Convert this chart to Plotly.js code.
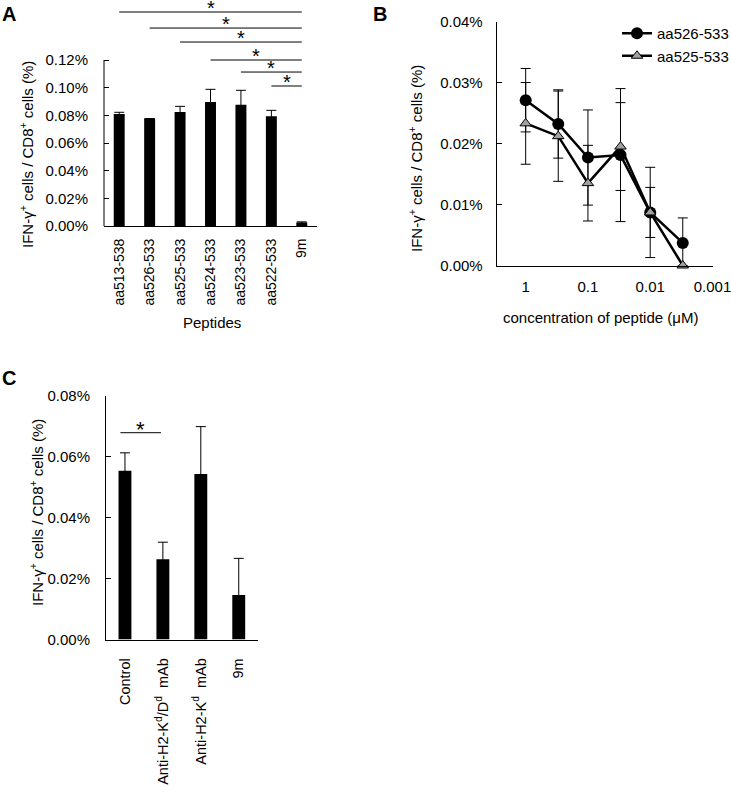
<!DOCTYPE html>
<html><head><meta charset="utf-8">
<script src="https://cdn.plot.ly/plotly-3.0.1.min.js"></script>
<style>html,body{margin:0;padding:0;background:#fff}#chart{width:731px;height:787px}</style>
</head><body><div id="chart"></div>
<script>
// ---------- Panel A data ----------
const peptides = ['aa513-538','aa526-533','aa525-533','aa524-533','aa523-533','aa522-533','9m'];
const peptideMeans = [0.0810,0.0776,0.0824,0.0896,0.0877,0.0793,0.0025];
const peptideErr   = [0.0012,0.0000,0.0041,0.0092,0.0104,0.0043,0.0005];
const sigFrom  = [0,1,2,3,4,5];
const sigTo    = [6,6,6,6,6,6];
const sigLevel = [0.1547,0.1431,0.1330,0.1200,0.1113,0.1012];
const yTicksA     = [0,0.02,0.04,0.06,0.08,0.10,0.12];
const yTickTextA  = ['0.00%','0.02%','0.04%','0.06%','0.08%','0.10%','0.12%'];

// ---------- Panel B data ----------
const concentrations = [1,0.3,0.1,0.03,0.01,0.003];
const aa526    = [0.0271,0.0232,0.0177,0.0181,0.0087,0.0037];
const aa526Err = [0.0052,0.0056,0.0078,0.0109,0.0041,0.0041];
const aa525    = [0.0233,0.0212,0.0135,0.0195,0.0087,0.0000];
const aa525Err = [0.0067,0.0074,0.0062,0.0072,0.0074,0.0000];
const concTicks    = [1,0.1,0.01,0.001];
const concTickText = ['1','0.1','0.01','0.001'];
const yTicksB    = [0,0.01,0.02,0.03,0.04];
const yTickTextB = ['0.00%','0.01%','0.02%','0.03%','0.04%'];

// ---------- Panel C data ----------
const treatments = ['Control','Anti-H2-K<sup>d</sup>/D<sup>d</sup>\u00a0 mAb','Anti-H2-K<sup>d</sup>\u00a0 mAb','9m'];
const treatMeans = [0.0553,0.0263,0.0543,0.0146];
const treatErr   = [0.0059,0.0056,0.0155,0.0120];
const yTicksC    = [0,0.02,0.04,0.06,0.08];
const yTickTextC = ['0.00%','0.02%','0.04%','0.06%','0.08%'];
const sigC = {from:-0.12, to:0.95, level:0.0678};

// ---------- layout helpers ----------
const W = 731, H = 787;
const fx = p => p / W;
const fy = p => 1 - p / H;
const FAM = 'Arial, "Liberation Sans", "DejaVu Sans", sans-serif';
const font = {family: FAM, size: 15, color: '#000'};
const ytitle = 'IFN-γ<sup>+</sup> cells / CD8<sup>+</sup> cells (%)';

const traces = [
  {type:'bar', x:peptides, y:peptideMeans, xaxis:'x', yaxis:'y', width:0.36,
   marker:{color:'#000'}, showlegend:false,
   error_y:{type:'data', array:peptideErr, visible:true, color:'#000', thickness:1, width:5}},
  {type:'scatter', mode:'lines+markers', name:'aa526-533', x:concentrations, y:aa526, xaxis:'x2', yaxis:'y2',
   line:{color:'#000', width:2.5}, marker:{symbol:'circle', size:12, color:'#000'}, cliponaxis:false,
   error_y:{type:'data', array:aa526Err, visible:true, color:'#000', thickness:1, width:5}},
  {type:'scatter', mode:'lines+markers', name:'aa525-533', x:concentrations, y:aa525, xaxis:'x2', yaxis:'y2',
   line:{color:'#000', width:2.5}, marker:{symbol:'triangle-up', size:10, color:'#a0a0a0', line:{color:'#000', width:1}}, cliponaxis:false,
   error_y:{type:'data', array:aa525Err, visible:true, color:'#000', thickness:1, width:5}},
  {type:'bar', x:treatments, y:treatMeans, xaxis:'x3', yaxis:'y3', width:0.34,
   marker:{color:'#000'}, showlegend:false,
   error_y:{type:'data', array:treatErr, visible:true, color:'#000', thickness:1, width:5}}
];

const shapes = [];
// panel A y-axis line (0 to 0.12)
shapes.push({type:'line', xref:'x domain', yref:'y', x0:0, x1:0, y0:0, y1:0.12, line:{color:'#000', width:1}});
for (let i = 0; i < sigFrom.length; i++) {
  shapes.push({type:'line', xref:'x', yref:'y', x0:sigFrom[i], x1:sigTo[i], y0:sigLevel[i], y1:sigLevel[i], line:{color:'#000', width:1}});
}
shapes.push({type:'line', xref:'x3', yref:'y3', x0:sigC.from, x1:sigC.to, y0:sigC.level, y1:sigC.level, line:{color:'#000', width:1}});

const annotations = [];
const pa = (o) => Object.assign({showarrow:false, xref:'paper', yref:'paper', xanchor:'center', yanchor:'middle', font:font}, o);
// panel letters
annotations.push(pa({text:'<b>A</b>', x:fx(9), y:fy(14), font:{family:FAM, size:20, color:'#000'}}));
annotations.push(pa({text:'<b>B</b>', x:fx(380), y:fy(14), font:{family:FAM, size:20, color:'#000'}}));
annotations.push(pa({text:'<b>C</b>', x:fx(9), y:fy(378), font:{family:FAM, size:20, color:'#000'}}));
// axis titles
annotations.push(pa({text:ytitle, x:fx(26), y:fy(155), textangle:-90}));
annotations.push(pa({text:'Peptides', x:fx(212), y:fy(322)}));
annotations.push(pa({text:ytitle, x:fx(415), y:fy(158), textangle:-90}));
annotations.push(pa({text:'concentration of peptide (μM)', x:fx(600), y:fy(317)}));
annotations.push(pa({text:ytitle, x:fx(36), y:fy(513), textangle:-90}));
// significance stars
for (let i = 0; i < sigFrom.length; i++) {
  annotations.push({text:'*', showarrow:false, xref:'x', yref:'y', x:(sigFrom[i] + sigTo[i]) / 2, y:sigLevel[i],
    xanchor:'center', yanchor:'bottom', yshift:-9, font:{family:FAM, size:20, color:'#000'}});
}
annotations.push({text:'*', showarrow:false, xref:'x3', yref:'y3', x:(sigC.from + sigC.to) / 2, y:sigC.level,
  xanchor:'center', yanchor:'bottom', yshift:-11, font:{family:FAM, size:22, color:'#000'}});

const axBase = {showgrid:false, zeroline:false, tickfont:font, linecolor:'#000', linewidth:1, tickcolor:'#000', fixedrange:true};

const layout = {
  width:W, height:H, autosize:false, margin:{l:0, r:0, t:0, b:0, autoexpand:false},
  paper_bgcolor:'#fff', plot_bgcolor:'rgba(0,0,0,0)', font:font,
  showlegend:true,
  legend:{x:fx(617), y:fy(17), xanchor:'left', yanchor:'top', font:font, bgcolor:'rgba(0,0,0,0)', borderwidth:0},
  xaxis: Object.assign({}, axBase, {domain:[fx(104), fx(317)], anchor:'y', type:'category', range:[-0.5, 6.5],
    showline:true, ticks:'', tickangle:-90, ticklabelstandoff:6, tickfont:{family:FAM, size:14, color:'#000'}}),
  yaxis: Object.assign({}, axBase, {domain:[fy(226), fy(226 - 0.16 * 1383.3)], anchor:'x', range:[0, 0.16],
    showline:false, ticks:'inside', ticklen:5, tickvals:yTicksA, ticktext:yTickTextA, ticklabelstandoff:15}),
  xaxis2: Object.assign({}, axBase, {domain:[fx(496.7), fx(712.6)], anchor:'y2', type:'log', range:[0.4655, -3.002],
    showline:true, ticks:'', tickvals:concTicks, ticktext:concTickText, ticklabelstandoff:7, ticklabeloverflow:'allow'}),
  yaxis2: Object.assign({}, axBase, {domain:[fy(265.5), fy(21.5)], anchor:'x2', range:[0, 0.04],
    showline:true, ticks:'inside', ticklen:5, tickvals:yTicksB, ticktext:yTickTextB, ticklabelstandoff:10}),
  xaxis3: Object.assign({}, axBase, {domain:[fx(106), fx(257.7)], anchor:'y3', type:'category', range:[-0.5, 3.5],
    showline:true, ticks:'', tickangle:-90, ticklabelstandoff:12, tickfont:{family:FAM, size:14.5, color:'#000'}}),
  yaxis3: Object.assign({}, axBase, {domain:[fy(639.5), fy(395.5)], anchor:'x3', range:[0, 0.08],
    showline:true, ticks:'inside', ticklen:5, tickvals:yTicksC, ticktext:yTickTextC, ticklabelstandoff:12}),
  shapes:shapes,
  annotations:annotations
};

Plotly.newPlot('chart', traces, layout, {displayModeBar:false, staticPlot:true});
</script>
</body></html>
